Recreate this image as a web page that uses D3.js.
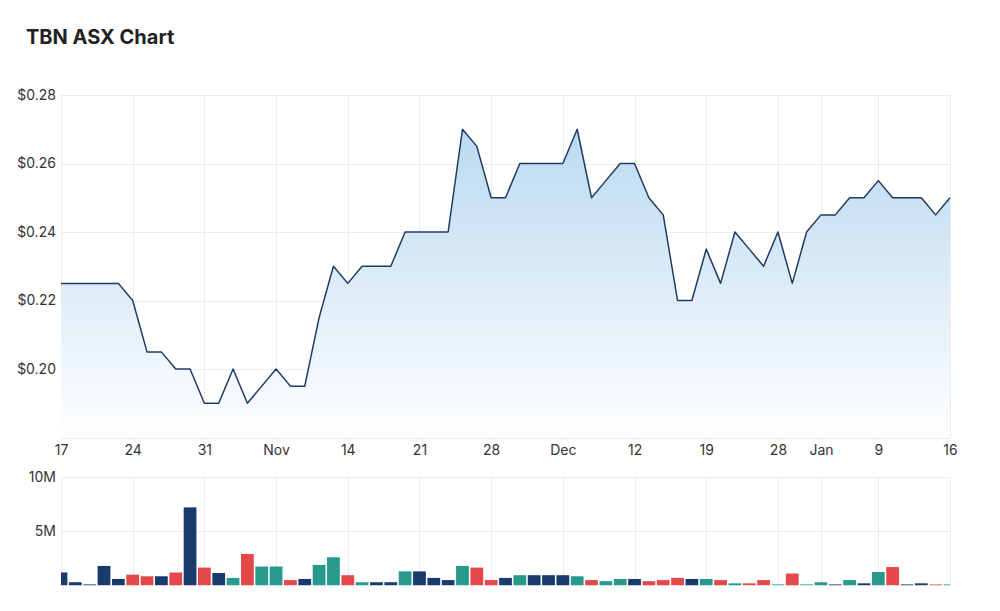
<!DOCTYPE html>
<html>
<head>
<meta charset="utf-8">
<script src="https://cdn.jsdelivr.net/npm/d3@7"></script>
<style>
  body { margin: 0; background: #fff; font-family: Inter, "Open Sans", sans-serif; }
  .title { font-family: Inter, sans-serif; font-size: 20px; font-weight: 700; fill: #222; }
  .tick-label { font-family: Inter, sans-serif; font-size: 14px; fill: #333; }
  .grid line { stroke: #ececec; stroke-width: 1; }
</style>
</head>
<body>
<script>
// trading days, TBN closing price and volume
var dates = [
  "2022-10-17","2022-10-18","2022-10-19","2022-10-20","2022-10-21",
  "2022-10-24","2022-10-25","2022-10-26","2022-10-27","2022-10-28","2022-10-31",
  "2022-11-01","2022-11-02","2022-11-03","2022-11-04",
  "2022-11-07","2022-11-08","2022-11-09","2022-11-10","2022-11-11",
  "2022-11-14","2022-11-15","2022-11-16","2022-11-17","2022-11-18",
  "2022-11-21","2022-11-22","2022-11-23","2022-11-24","2022-11-25",
  "2022-11-28","2022-11-29","2022-11-30","2022-12-01","2022-12-02",
  "2022-12-05","2022-12-06","2022-12-07","2022-12-08","2022-12-09",
  "2022-12-12","2022-12-13","2022-12-14","2022-12-15","2022-12-16",
  "2022-12-19","2022-12-20","2022-12-21","2022-12-22","2022-12-23",
  "2022-12-28","2022-12-29","2022-12-30",
  "2023-01-03","2023-01-04","2023-01-05","2023-01-06",
  "2023-01-09","2023-01-10","2023-01-11","2023-01-12","2023-01-13","2023-01-16"
];

var close = [
  0.225, 0.225, 0.225, 0.225, 0.225,
  0.22, 0.205, 0.205, 0.20, 0.20, 0.19,
  0.19, 0.20, 0.19, 0.195,
  0.20, 0.195, 0.195, 0.215, 0.23,
  0.225, 0.23, 0.23, 0.23, 0.24,
  0.24, 0.24, 0.24, 0.27, 0.265,
  0.25, 0.25, 0.26, 0.26, 0.26,
  0.26, 0.27, 0.25, 0.255, 0.26,
  0.26, 0.25, 0.245, 0.22, 0.22,
  0.235, 0.225, 0.24, 0.235, 0.23,
  0.24, 0.225, 0.24,
  0.245, 0.245, 0.25, 0.25,
  0.255, 0.25, 0.25, 0.25, 0.245, 0.25
];

// volume in millions of shares
var volume = [
  1.2, 0.3, 0.1, 1.8, 0.6,
  1.0, 0.85, 0.85, 1.2, 7.2, 1.65,
  1.15, 0.7, 2.9, 1.75,
  1.75, 0.5, 0.6, 1.9, 2.6,
  0.95, 0.3, 0.3, 0.3, 1.3,
  1.3, 0.7, 0.5, 1.8, 1.65,
  0.5, 0.7, 0.95, 0.95, 0.95,
  0.95, 0.85, 0.5, 0.4, 0.6,
  0.6, 0.4, 0.5, 0.7, 0.6,
  0.6, 0.5, 0.2, 0.2, 0.5,
  0.1, 1.1, 0.1,
  0.3, 0.1, 0.5, 0.2,
  1.25, 1.7, 0.1, 0.2, 0.1, 0.1
];

var tickDates = ["2022-10-17","2022-10-24","2022-10-31","2022-11-07","2022-11-14","2022-11-21",
  "2022-11-28","2022-12-05","2022-12-12","2022-12-19","2022-12-28","2023-01-03","2023-01-09","2023-01-16"];
var tickLabels = ["17","24","31","Nov","14","21","28","Dec","12","19","28","Jan","9","16"];

var priceTicks = [0.20, 0.22, 0.24, 0.26, 0.28];
var volumeTicks = [5, 10];

var width = 1000, height = 611;
var left = 61, right = 950;
var priceTop = 95, priceBottom = 437.5;
var volTop = 477, volBottom = 585.5;

var svg = d3.select("body").append("svg")
    .attr("width", width)
    .attr("height", height);

var x = d3.scalePoint().domain(dates).range([left, right]);
var yPrice = d3.scaleLinear().domain([0.18, 0.28]).range([priceBottom, priceTop]);
var yVol = d3.scaleLinear().domain([0, 10]).range([volBottom, volTop]);

// Title
svg.append("text")
    .attr("class", "title")
    .attr("x", 26)
    .attr("y", 44)
    .text("TBN ASX Chart");

// Gradient for area
var defs = svg.append("defs");
var grad = defs.append("linearGradient")
    .attr("id", "areaGrad")
    .attr("gradientUnits", "userSpaceOnUse")
    .attr("x1", 0).attr("x2", 0)
    .attr("y1", priceTop).attr("y2", priceBottom);
grad.append("stop").attr("offset", "0%").attr("stop-color", "#b3d5f0");
grad.append("stop").attr("offset", "100%").attr("stop-color", "#ffffff");

defs.append("clipPath").attr("id", "volClip")
  .append("rect")
    .attr("x", left).attr("y", volTop)
    .attr("width", right - left).attr("height", volBottom - volTop);

// Grid lines - price
var gridP = svg.append("g").attr("class", "grid");
gridP.selectAll(".h").data(priceTicks.concat([0.18])).enter().append("line")
    .attr("x1", left).attr("x2", right)
    .attr("y1", function(d) { return Math.round(yPrice(d)) + 0.5; })
    .attr("y2", function(d) { return Math.round(yPrice(d)) + 0.5; });
gridP.selectAll(".v").data(tickDates).enter().append("line")
    .attr("x1", function(d) { return Math.round(x(d)) + 0.5; })
    .attr("x2", function(d) { return Math.round(x(d)) + 0.5; })
    .attr("y1", priceTop).attr("y2", priceBottom);

// Grid lines - volume
var gridV = svg.append("g").attr("class", "grid");
gridV.selectAll(".h").data(volumeTicks).enter().append("line")
    .attr("x1", left).attr("x2", right)
    .attr("y1", function(d) { return Math.round(yVol(d)) + 0.5; })
    .attr("y2", function(d) { return Math.round(yVol(d)) + 0.5; });
gridV.selectAll(".v").data(tickDates).enter().append("line")
    .attr("x1", function(d) { return Math.round(x(d)) + 0.5; })
    .attr("x2", function(d) { return Math.round(x(d)) + 0.5; })
    .attr("y1", volTop).attr("y2", volBottom);

// Area + line
var area = d3.area()
    .x(function(d, i) { return x(dates[i]); })
    .y0(priceBottom)
    .y1(function(d) { return yPrice(d); });

var line = d3.line()
    .x(function(d, i) { return x(dates[i]); })
    .y(function(d) { return yPrice(d); });

svg.append("path")
    .datum(close)
    .attr("fill", "url(#areaGrad)")
    .attr("d", area);

svg.append("path")
    .datum(close)
    .attr("fill", "none")
    .attr("stroke", "#1d3b66")
    .attr("stroke-width", 1.5)
    .attr("stroke-linejoin", "round")
    .attr("d", line);

// Volume bars, coloured by price change
function barColor(i) {
  if (i === 0 || close[i] === close[i - 1]) return "#183a6d";
  return close[i] > close[i - 1] ? "#27998d" : "#e5484a";
}
var bw = x.step() * 0.89;

svg.append("g")
    .attr("clip-path", "url(#volClip)")
  .selectAll("rect").data(volume).enter().append("rect")
    .attr("x", function(d, i) { return x(dates[i]) - bw / 2; })
    .attr("y", function(d) { return yVol(d); })
    .attr("width", bw)
    .attr("height", function(d) { return volBottom - yVol(d); })
    .attr("fill", function(d, i) { return barColor(i); });

// Axis labels
var xAxis = d3.axisBottom(x)
    .tickValues(tickDates)
    .tickSize(0)
    .tickPadding(0)
    .tickFormat(function(d) { return tickLabels[tickDates.indexOf(d)]; });

var gx = svg.append("g")
    .attr("transform", "translate(0," + 445 + ")")
    .call(xAxis);
gx.select(".domain").remove();
gx.selectAll("text").attr("class", "tick-label").attr("fill", null).attr("dy", "0.71em");

var gyP = svg.append("g")
    .attr("transform", "translate(56,0)")
    .call(d3.axisLeft(yPrice).tickValues(priceTicks).tickSize(0).tickPadding(0)
      .tickFormat(function(d) { return "$" + d3.format(".2f")(d); }));
gyP.select(".domain").remove();
gyP.selectAll("text").attr("class", "tick-label").attr("fill", null);

var gyV = svg.append("g")
    .attr("transform", "translate(56,0)")
    .call(d3.axisLeft(yVol).tickValues(volumeTicks).tickSize(0).tickPadding(0)
      .tickFormat(function(d) { return d + "M"; }));
gyV.select(".domain").remove();
gyV.selectAll("text").attr("class", "tick-label").attr("fill", null);
</script>
</body>
</html>
